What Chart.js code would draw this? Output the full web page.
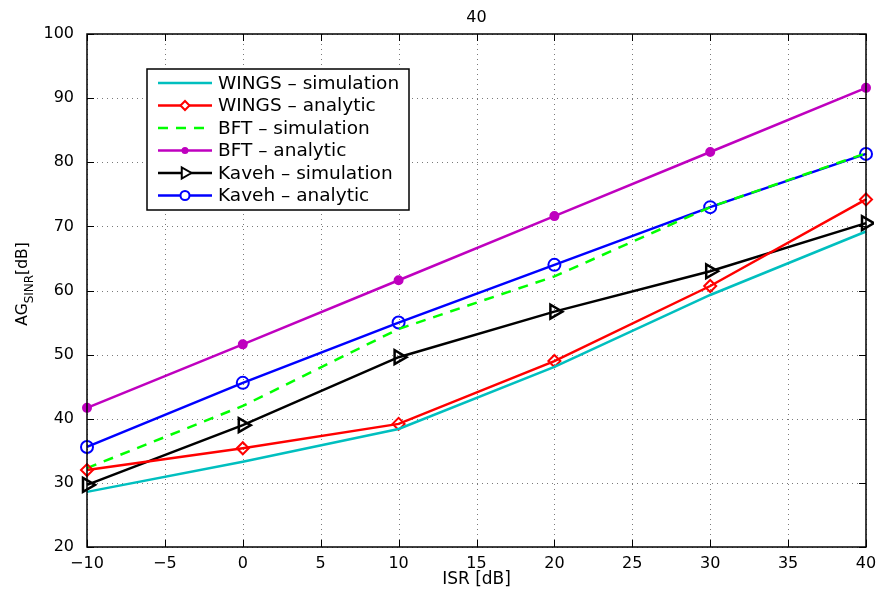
<!DOCTYPE html>
<html>
<head>
<meta charset="utf-8">
<script src="https://cdn.jsdelivr.net/npm/chart.js@4"></script>
<style>
  html, body { margin: 0; padding: 0; background: #fff; }
  #wrap { width: 880px; height: 596px; position: relative; }
</style>
</head>
<body>
<div id="wrap"><canvas id="chart"></canvas></div>
<script>
const isr = [-10, 0, 10, 20, 30, 40]
const wingsSim = [28.6, 33.3, 38.4, 48.1, 59.3, 69.2]
const wingsAna = [32.0, 35.4, 39.2, 49.0, 60.7, 74.2]
const bftSim = [32.3, 42.0, 54.0, 62.2, 73.0, 81.4]
const bftAna = [41.7, 51.6, 61.6, 71.6, 81.6, 91.6]
const kavehSim = [29.7, 39.0, 49.6, 56.7, 63.0, 70.5]
const kavehAna = [35.6, 45.6, 55.0, 64.0, 73.0, 81.3]
const xTicks = [-10, -5, 0, 5, 10, 15, 20, 25, 30, 35, 40]
const yTicks = [20, 30, 40, 50, 60, 70, 80, 90, 100]

const FONT = "'DejaVu Sans', Arial, sans-serif"

const pts = arr => arr.map((v, i) => ({ x: isr[i], y: v }))

const series = [
  { label: "WINGS – simulation", data: wingsSim, color: "#00bfbf", style: false, dash: [] },
  { label: "WINGS – analytic", data: wingsAna, color: "#ff0000", style: "rectRot", radius: 6, dash: [] },
  { label: "BFT – simulation", data: bftSim, color: "#00ff00", style: false, dash: [10, 8] },
  { label: "BFT – analytic", data: bftAna, color: "#bf00bf", style: "circle", radius: 4, fill: true, dash: [] },
  { label: "Kaveh – simulation", data: kavehSim, color: "#000000", style: "triangle", radius: 8, rot: 90, dash: [] },
  { label: "Kaveh – analytic", data: kavehAna, color: "#0000ff", style: "circle", radius: 6, dash: [] }
]

// dotted grid under the lines
const grid = {
  id: "grid",
  beforeDatasetsDraw(chart) {
    const { ctx, chartArea: a, scales } = chart
    ctx.save()
    ctx.strokeStyle = "#7a7a7a"
    ctx.lineWidth = 1
    ctx.setLineDash([1, 4])
    ctx.beginPath()
    xTicks.forEach(t => {
      const x = Math.round(scales.x.getPixelForValue(t)) + 0.5
      ctx.moveTo(x, a.top); ctx.lineTo(x, a.bottom)
    })
    yTicks.forEach(t => {
      const y = Math.round(scales.y.getPixelForValue(t)) + 0.5
      ctx.moveTo(a.left, y); ctx.lineTo(a.right, y)
    })
    ctx.stroke()
    ctx.restore()
  }
}

// frame, inward tick marks, title, y label with subscript, legend box
const decor = {
  id: "decor",
  afterDraw(chart) {
    const { ctx, chartArea: a, scales } = chart
    ctx.save()
    ctx.strokeStyle = "#000"
    ctx.lineWidth = 1.5
    ctx.strokeRect(a.left, a.top, a.right - a.left, a.bottom - a.top)
    ctx.lineWidth = 1
    ctx.beginPath()
    xTicks.forEach(t => {
      const x = Math.round(scales.x.getPixelForValue(t)) + 0.5
      ctx.moveTo(x, a.bottom); ctx.lineTo(x, a.bottom - 7)
      ctx.moveTo(x, a.top); ctx.lineTo(x, a.top + 7)
    })
    yTicks.forEach(t => {
      const y = Math.round(scales.y.getPixelForValue(t)) + 0.5
      ctx.moveTo(a.left, y); ctx.lineTo(a.left + 7, y)
      ctx.moveTo(a.right, y); ctx.lineTo(a.right - 7, y)
    })
    ctx.stroke()

    ctx.fillStyle = "#000"
    ctx.font = "16px " + FONT
    ctx.textAlign = "center"
    ctx.textBaseline = "middle"
    ctx.fillText("40", (a.left + a.right) / 2, 18)
    ctx.font = "17px " + FONT
    ctx.fillText("ISR [dB]", (a.left + a.right) / 2, 580)

    // y axis title: AG_SINR [dB]
    ctx.translate(23, 284)
    ctx.rotate(-Math.PI / 2)
    ctx.font = "15.5px " + FONT
    const w1 = ctx.measureText("AG").width
    ctx.font = "12px " + FONT
    const w2 = ctx.measureText("SINR").width
    ctx.font = "15.5px " + FONT
    const w3 = ctx.measureText("[dB]").width
    const x0 = -(w1 + w2 + w3) / 2
    ctx.textAlign = "left"
    ctx.fillText("AG", x0, 0)
    ctx.font = "12px " + FONT
    ctx.fillText("SINR", x0 + w1, 7)
    ctx.font = "15.5px " + FONT
    ctx.fillText("[dB]", x0 + w1 + w2, 0)
    ctx.restore()

    // legend
    ctx.save()
    const lx = 147, ly = 69, lw = 262, lh = 141
    ctx.fillStyle = "#fff"
    ctx.fillRect(lx, ly, lw, lh)
    ctx.strokeStyle = "#000"
    ctx.lineWidth = 1.5
    ctx.strokeRect(lx, ly, lw, lh)
    ctx.font = "18.5px " + FONT
    ctx.textBaseline = "middle"
    ctx.textAlign = "left"
    series.forEach((s, i) => {
      const y = ly + 14 + i * 22.5
      ctx.strokeStyle = s.color
      ctx.lineWidth = 2.5
      ctx.setLineDash(s.dash)
      ctx.beginPath()
      ctx.moveTo(158, y); ctx.lineTo(212, y)
      ctx.stroke()
      ctx.setLineDash([])
      if (s.style) {
        ctx.fillStyle = s.fill ? s.color : "#fff"
        ctx.strokeStyle = s.color
        ctx.lineWidth = 2
        Chart.helpers.drawPoint(ctx, {
          pointStyle: s.style,
          radius: s.radius - 1.5,
          rotation: s.rot || 0,
          borderWidth: 2
        }, 185, y)
      }
      ctx.fillStyle = "#000"
      ctx.fillText(s.label, 218, y + 1)
    })
    ctx.restore()
  }
}

new Chart(document.getElementById("chart"), {
  type: "line",
  data: {
    datasets: series.map(s => ({
      label: s.label,
      data: pts(s.data),
      borderColor: s.color,
      backgroundColor: s.fill ? s.color : "#fff",
      borderWidth: 2.5,
      borderDash: s.dash,
      pointStyle: s.style || false,
      pointRadius: s.style ? s.radius : 0,
      pointRotation: s.rot || 0,
      pointBorderWidth: s.rot ? 2.5 : 2,
      pointBorderColor: s.color,
      pointBackgroundColor: s.fill ? s.color : "rgba(255,255,255,0)",
      tension: 0,
      fill: false,
      clip: 8
    }))
  },
  options: {
    responsive: true,
    maintainAspectRatio: false,
    animation: false,
    layout: { padding: { top: 34, right: 14, left: 0, bottom: 0 } },
    plugins: { legend: { display: false }, tooltip: { enabled: false } },
    scales: {
      x: {
        type: "linear",
        min: -10, max: 40,
        afterFit: s => { s.height = 49 },
        afterBuildTicks: s => { s.ticks = xTicks.map(v => ({ value: v })) },
        grid: { display: false },
        border: { display: false },
        ticks: {
          color: "#000", font: { family: FONT, size: 16 }, padding: -1,
          callback: v => (v < 0 ? "\u2212" + Math.abs(v) : String(v))
        }
      },
      y: {
        min: 20, max: 100,
        afterFit: s => { s.width = 87 },
        afterBuildTicks: s => { s.ticks = yTicks.map(v => ({ value: v })) },
        grid: { display: false },
        border: { display: false },
        ticks: { color: "#000", font: { family: FONT, size: 16 }, padding: 5 }
      }
    }
  },
  plugins: [grid, decor]
})
</script>
</body>
</html>
